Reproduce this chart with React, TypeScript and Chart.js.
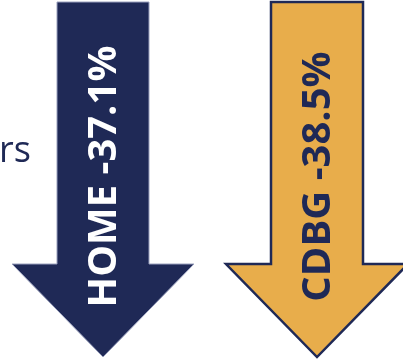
import React, { useEffect, useRef } from "react";
import { Chart, registerables } from "chart.js";

Chart.register(...registerables);

const categories = ["HOME", "CDBG"];
const changes = [-37.1, -38.5];
const fillColors = ["#1f2956", "#e8ad4b"];
const textColors = ["#ffffff", "#1f2956"];
const strokeColors = ["#9aa0bd", "#1f2956"];
const sideText = "rs";

const arrowPlugin = {
  id: "arrows",
  afterDatasetsDraw(chart: any) {
    const { ctx, chartArea } = chart;
    const xScale = chart.scales.x;
    const top = chartArea.top;
    const tip = chartArea.bottom;
    const shaftHalf = 46;
    const headHalf = 91;
    const headLen = 93;
    ctx.save();
    // partial side text
    ctx.fillStyle = "#1f2956";
    ctx.font = '36px "Open Sans"';
    ctx.textAlign = "left";
    ctx.textBaseline = "alphabetic";
    ctx.fillText(sideText, -1, 162);

    categories.forEach((cat, i) => {
      const cx = xScale.getPixelForValue(i);
      const headTop = tip - headLen;
      ctx.beginPath();
      ctx.moveTo(cx - shaftHalf, top);
      ctx.lineTo(cx + shaftHalf, top);
      ctx.lineTo(cx + shaftHalf, headTop);
      ctx.lineTo(cx + headHalf, headTop);
      ctx.lineTo(cx, tip);
      ctx.lineTo(cx - headHalf, headTop);
      ctx.lineTo(cx - shaftHalf, headTop);
      ctx.closePath();
      ctx.fillStyle = fillColors[i];
      ctx.fill();
      ctx.lineWidth = i === 1 ? 2.5 : 1;
      ctx.strokeStyle = strokeColors[i];
      ctx.lineJoin = "miter";
      ctx.stroke();

      ctx.save();
      ctx.translate(cx + 12.5, (top + tip) / 2 - 3);
      ctx.rotate(-Math.PI / 2);
      ctx.fillStyle = textColors[i];
      ctx.font = 'bold 40px "Open Sans"';
      ctx.textAlign = "center";
      ctx.textBaseline = "alphabetic";
      ctx.fillText(`${cat} ${changes[i].toFixed(1)}%`, 0, 0);
      ctx.restore();
    });
    ctx.restore();
  },
};

export default function App() {
  const ref = useRef<HTMLCanvasElement>(null);
  useEffect(() => {
    document.body.style.margin = "0";
    const chart = new Chart(ref.current as HTMLCanvasElement, {
      type: "bar",
      data: {
        labels: categories,
        datasets: [
          {
            data: changes,
            backgroundColor: "rgba(0,0,0,0)",
            borderWidth: 0,
          },
        ],
      },
      options: {
        responsive: false,
        animation: false,
        layout: { padding: { left: 103, right: 86, top: 2, bottom: 2 } },
        plugins: { legend: { display: false }, tooltip: { enabled: false } },
        scales: {
          x: { type: "category", offset: false, display: false },
          y: { display: false, min: -40, max: 0 },
        },
      },
      plugins: [arrowPlugin],
    });
    return () => chart.destroy();
  }, []);
  return (
    <div style={{ position: "absolute", left: 0, top: 0, width: 403, height: 359 }}>
      <canvas ref={ref} width={403} height={359} />
    </div>
  );
}
